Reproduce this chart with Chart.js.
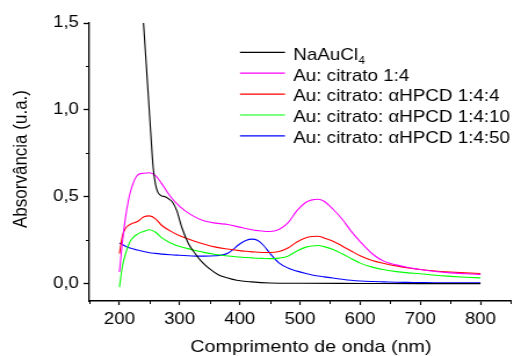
<!DOCTYPE html>
<html lang="pt-BR">
<head>
    <meta charset="UTF-8">
    <title>Absorvância UV-Vis</title>
    <script src="https://cdn.jsdelivr.net/npm/chart.js"></script>
    <style>
        html, body { margin: 0; padding: 0; background: #fff; overflow: hidden; }
        /* o original está esticado na horizontal, então o canvas é esticado também */
        .wrap {
            width: 443px;
            height: 356px;
            transform: scaleX(1.1603);
            transform-origin: 0 0;
        }
    </style>
</head>
<body>
<div class="wrap">
    <canvas id="grafico" width="443" height="356"></canvas>
</div>
<script>
    // comprimentos de onda (nm)
    const nmPreto = [236, 240, 244, 248, 252, 256, 260, 264, 270, 276, 282, 288, 295, 304, 315, 326, 337, 350, 365, 380, 395, 420, 450, 500, 600, 700, 800];
    const nmCores = [200, 205, 210, 215, 220, 230, 240, 250, 260, 270, 285, 300, 320, 340, 360, 380, 400, 410, 420, 430, 440, 450, 465, 480, 495, 510, 520, 530, 540, 555, 570, 585, 600, 620, 640, 660, 680, 700, 725, 750, 775, 800];

    // absorvâncias
    const absNaAuCl4 = [1.71, 1.5, 1.29, 1.08, 0.87, 0.67, 0.57, 0.525, 0.505, 0.5, 0.487, 0.47, 0.423, 0.32, 0.228, 0.172, 0.125, 0.085, 0.05, 0.032, 0.019, 0.01, 0.004, 0.002, 0.001, 0.0, 0.0];
    const absCitrato = [0.067, 0.24, 0.38, 0.48, 0.55, 0.625, 0.635, 0.638, 0.622, 0.577, 0.50, 0.445, 0.394, 0.362, 0.348, 0.34, 0.325, 0.317, 0.31, 0.305, 0.301, 0.30, 0.312, 0.35, 0.42, 0.468, 0.482, 0.486, 0.474, 0.428, 0.372, 0.302, 0.242, 0.172, 0.128, 0.108, 0.093, 0.081, 0.07, 0.062, 0.057, 0.053];
    const absHpcd4 = [0.173, 0.275, 0.318, 0.335, 0.345, 0.358, 0.384, 0.39, 0.373, 0.336, 0.302, 0.275, 0.25, 0.228, 0.21, 0.199, 0.19, 0.186, 0.183, 0.181, 0.179, 0.179, 0.185, 0.205, 0.24, 0.264, 0.271, 0.273, 0.263, 0.244, 0.217, 0.188, 0.16, 0.133, 0.116, 0.102, 0.09, 0.081, 0.073, 0.067, 0.062, 0.058];
    const absHpcd10 = [-0.02, 0.10, 0.17, 0.221, 0.255, 0.285, 0.30, 0.31, 0.296, 0.265, 0.234, 0.214, 0.196, 0.18, 0.168, 0.159, 0.153, 0.15, 0.148, 0.146, 0.145, 0.144, 0.147, 0.158, 0.188, 0.21, 0.217, 0.219, 0.213, 0.196, 0.172, 0.145, 0.118, 0.095, 0.08, 0.069, 0.062, 0.057, 0.048, 0.042, 0.037, 0.033];
    const absHpcd50 = [0.234, 0.225, 0.215, 0.208, 0.202, 0.193, 0.185, 0.178, 0.174, 0.17, 0.166, 0.163, 0.159, 0.158, 0.16, 0.175, 0.228, 0.248, 0.256, 0.248, 0.218, 0.175, 0.12, 0.09, 0.072, 0.058, 0.05, 0.044, 0.039, 0.032, 0.025, 0.019, 0.015, 0.012, 0.01, 0.008, 0.007, 0.006, 0.005, 0.005, 0.005, 0.005];

    const nomes = ['NaAuCl_4', 'Au: citrato 1:4', 'Au: citrato: αHPCD 1:4:4', 'Au: citrato: αHPCD 1:4:10', 'Au: citrato: αHPCD 1:4:50'];
    const cores = ['#000000', '#ff00ff', '#ff0000', '#00ff00', '#0000ff'];

    // ticks dos eixos
    const xTicks = [200, 300, 400, 500, 600, 700, 800];
    const xMenores = [150, 250, 350, 450, 550, 650, 750, 850];
    const yTicks = [0, 0.5, 1.0, 1.5];
    const yMenores = [0.25, 0.75, 1.25];

    const FONTE = '"Liberation Sans", Arial, sans-serif';

    function pares(xs, ys) {
        return xs.map((x, i) => ({ x: x, y: ys[i] }));
    }

    const series = [
        pares(nmPreto, absNaAuCl4),
        pares(nmCores, absCitrato),
        pares(nmCores, absHpcd4),
        pares(nmCores, absHpcd10),
        pares(nmCores, absHpcd50)
    ];

    // ticks menores, títulos dos eixos e legenda
    const extras = {
        id: 'extras',
        afterDraw(chart) {
            const ctx = chart.ctx;
            const sx = chart.scales.x, sy = chart.scales.y;
            const area = chart.chartArea;
            ctx.save();
            ctx.strokeStyle = '#000';
            ctx.lineWidth = 1;
            ctx.beginPath();
            xMenores.forEach(v => {
                const px = Math.round(sx.getPixelForValue(v)) + 0.5;
                ctx.moveTo(px, area.bottom);
                ctx.lineTo(px, area.bottom + 3);
            });
            yMenores.forEach(v => {
                const py = Math.round(sy.getPixelForValue(v)) + 0.5;
                ctx.moveTo(area.left, py);
                ctx.lineTo(area.left - 3, py);
            });
            ctx.stroke();

            ctx.fillStyle = '#000';
            ctx.font = '17px ' + FONTE;
            ctx.textAlign = 'center';
            ctx.textBaseline = 'alphabetic';
            ctx.fillText('Comprimento de onda (nm)', 268, 352);

            ctx.save();
            ctx.translate(23, 159);
            ctx.rotate(-Math.PI / 2);
            ctx.fillText('Absorvância (u.a.)', 0, 0);
            ctx.restore();

            // legenda
            ctx.textAlign = 'left';
            nomes.forEach((nome, i) => {
                const y = 52.3 + i * 20.9;
                ctx.strokeStyle = cores[i];
                ctx.lineWidth = 1.2;
                ctx.beginPath();
                ctx.moveTo(206.8, y);
                ctx.lineTo(245.6, y);
                ctx.stroke();
                ctx.fillStyle = '#000';
                const partes = nome.split('_');
                ctx.font = '16.2px ' + FONTE;
                ctx.fillText(partes[0], 252.8, y + 7.3);
                if (partes[1]) {
                    const w = ctx.measureText(partes[0]).width;
                    ctx.font = '10px ' + FONTE;
                    ctx.fillText(partes[1], 252.8 + w + 0.5, y + 11.3);
                }
            });
            ctx.restore();
        }
    };

    new Chart(document.getElementById('grafico'), {
        type: 'line',
        data: {
            datasets: series.map((d, i) => ({
                label: nomes[i],
                data: d,
                borderColor: cores[i],
                backgroundColor: cores[i],
                borderWidth: 1.1,
                pointRadius: 0,
                fill: false,
                cubicInterpolationMode: 'monotone'
            }))
        },
        options: {
            responsive: false,
            animation: false,
            layout: { padding: { top: 23, right: 3, left: 0, bottom: 0 } },
            plugins: {
                legend: { display: false },
                tooltip: { enabled: false }
            },
            scales: {
                x: {
                    type: 'linear',
                    min: 150,
                    max: 850,
                    afterBuildTicks: s => { s.ticks = xTicks.map(v => ({ value: v })); },
                    afterFit: s => { s.height = 55; },
                    grid: { drawOnChartArea: false, tickLength: 4, tickColor: '#000', tickWidth: 1.2 },
                    border: { color: '#000', width: 1.5 },
                    ticks: { color: '#000', font: { family: FONTE, size: 16 }, padding: 5, maxRotation: 0, callback: v => String(v) }
                },
                y: {
                    min: -0.1,
                    max: 1.5,
                    afterBuildTicks: s => { s.ticks = yTicks.map(v => ({ value: v })); },
                    afterFit: s => { s.width = 77; },
                    grid: { drawOnChartArea: false, tickLength: 5, tickColor: '#000', tickWidth: 1.3 },
                    border: { color: '#000', width: 1.3 },
                    ticks: { color: '#000', font: { family: FONTE, size: 16 }, padding: 4, callback: v => v.toFixed(1).replace('.', ',') }
                }
            }
        },
        plugins: [extras]
    });
</script>
</body>
</html>
